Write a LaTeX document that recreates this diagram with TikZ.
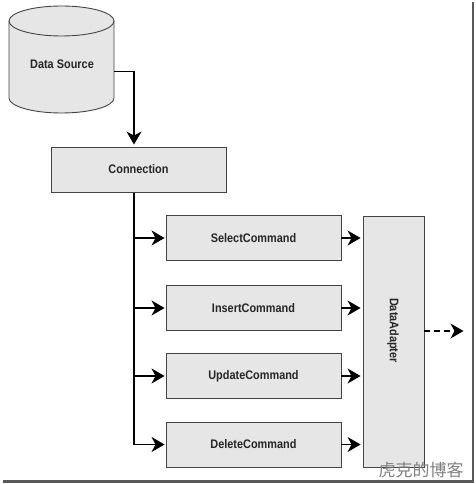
\documentclass[tikz,border=0pt]{standalone}
\usepackage{fontspec}
\newfontfamily\labelfont[FakeStretch=0.88]{Liberation Sans}
\newfontfamily\cjk{Noto Sans CJK SC}
\usetikzlibrary{arrows.meta}
\definecolor{boxfill}{HTML}{E6E6E6}
\definecolor{boxline}{HTML}{444444}
\tikzset{
	boxtext/.style={font=\labelfont\fontsize{12.4pt}{14pt}\selectfont\bfseries, text=black!85},
	cmdbox/.style={boxtext, draw=boxline, fill=boxfill, line width=0.9pt, minimum width=175pt, minimum height=45pt, inner sep=0pt},
	flow/.style={line width=1.3pt, shorten >=2pt, -{Stealth[length=13pt, width=15pt, inset=4pt]}},
}
\begin{document}
\begin{tikzpicture}[x=1pt, y=-1pt]
	\useasboundingbox (0, 0) rectangle (475, 484);

	% frame
	\draw[black!65, line width=2.5pt] (473, 2) -- (473, 481.5) -- (3, 481.5);

	% data source
	\draw[boxline, fill=boxfill, line width=0.9pt] (9, 21) -- (9, 98) arc[start angle=180, end angle=0, x radius=52.5, y radius=15] -- (114, 21) arc[start angle=0, end angle=-180, x radius=52.5, y radius=15] -- cycle;
	\draw[boxline, line width=0.9pt] (9, 21) arc[start angle=180, end angle=0, x radius=52.5, y radius=15];
	\node[boxtext] (source) at (62, 64.5) {Data Source};
	\coordinate (sourceout) at (114, 71.5);

	% boxes
	\node[cmdbox] (connection) at (138.5, 169.5) {Connection};
	\node[cmdbox] (select) at (253.5, 238) {SelectCommand};
	\node[cmdbox] (insert) at (253.5, 308) {InsertCommand};
	\node[cmdbox] (update) at (253.5, 376) {UpdateCommand};
	\node[cmdbox] (delete) at (253.5, 444.5) {DeleteCommand};
	\node[cmdbox, minimum width=61pt, minimum height=251pt] (adapter) at (393.5, 341.5) {};
	\node[boxtext, rotate=-90] (adaptertext) at (393, 330.5) {DataAdapter};

	% connectors
	\coordinate (trunktop) at (134, 193);
	\coordinate (trunkend) at (134, 444.5);
	\draw[flow] (sourceout) -- (sourceout -| trunktop) -- (trunktop |- connection.north);
	\draw[line width=1.3pt] (trunktop) -- (trunkend);
	\foreach \cmd in {select, insert, update, delete} {
		\draw[flow, shorten >=1pt] (trunktop |- \cmd.west) -- (\cmd.west);
		\draw[flow] (\cmd.east) -- (adapter.west |- \cmd.east);
	}
	\coordinate (adapterout) at (463.5, 331);
	\draw[flow, shorten >=0pt, dash pattern=on 6pt off 4pt] (adapter.east |- adapterout) -- (adapterout);

	\node[font=\cjk\fontsize{17pt}{19pt}\selectfont, text=black!50] (stamp) at (421, 470) {虎克的博客};
\end{tikzpicture}
\end{document}
